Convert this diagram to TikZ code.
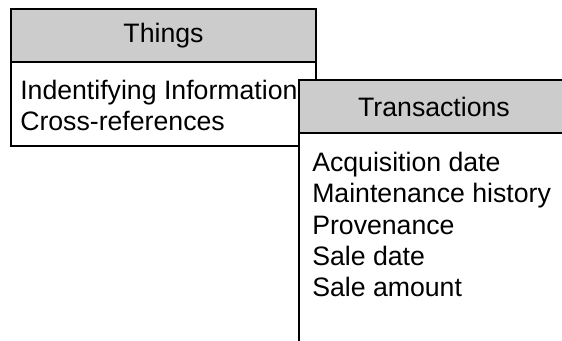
\documentclass[tikz,border=0pt]{standalone}
\usepackage{fontspec}
\setmainfont{Liberation Sans}
\usetikzlibrary{positioning}

\tikzset{
  boxline/.style={draw, line width=1pt, inner sep=0pt, outer sep=0pt},
  headbox/.style={boxline, fill=gray!40, font=\fontsize{20}{24}\selectfont},
  bodybox/.style={boxline, fill=white},
  bodytext/.style={inner sep=0pt, align=left, anchor=north west,
    font=\fontsize{20}{23.6}\selectfont},
}

\begin{document}
\begin{tikzpicture}[x=0.75pt, y=-0.75pt]
\useasboundingbox (0,0) rectangle (562,341);

% Things
\node[headbox, minimum width=228.75pt, minimum height=39.75pt, anchor=north west]
  (thingshead) at (11,9) {Things};
\node[bodybox, minimum width=228.75pt, minimum height=63pt, below=0pt of thingshead]
  (thingsbody) {};
\node[bodytext] (thingslist) at (20,79.5)
  {Indentifying Information\\Cross-references};

% Transactions (runs off the page)
\node[headbox, minimum width=202.5pt, minimum height=39.75pt, anchor=north west]
  (transhead) at (299,80) {Transactions};
\node[bodybox, minimum width=202.5pt, minimum height=162.75pt, below=0pt of transhead]
  (transbody) {};
\node[bodytext] (translist) at (312,151.5)
  {Acquisition date\\Maintenance history\\Provenance\\Sale date\\Sale amount};
\end{tikzpicture}
\end{document}
